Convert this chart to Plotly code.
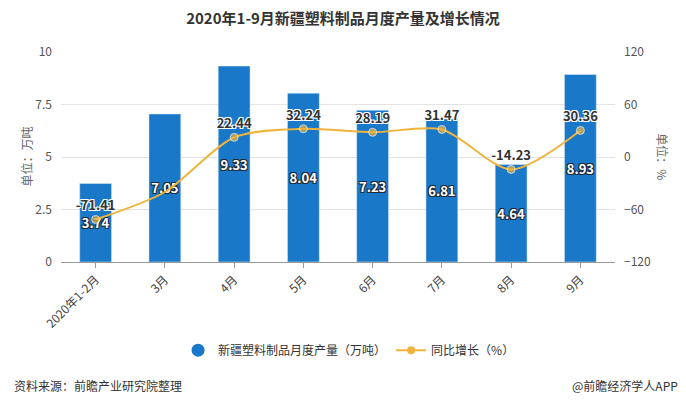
import plotly.graph_objects as go

categories = ["2020年1-2月", "3月", "4月", "5月", "6月", "7月", "8月", "9月"]
output_vals = [3.74, 7.05, 9.33, 8.04, 7.23, 6.81, 4.64, 8.93]
growth_vals = [-71.41, -40.0, 22.44, 32.24, 28.19, 31.47, -14.23, 30.36]
growth_labels = ["-71.41", "", "22.44", "32.24", "28.19", "31.47", "-14.23", "30.36"]
left_ticks = [0, 2.5, 5, 7.5, 10]
left_tick_text = ["0", "2.5", "5", "7.5", "10"]
right_ticks = [-120, -60, 0, 60, 120]

BAR = "#1a78c8"
LINE = "#f0b43c"
FONT = "Noto Sans CJK SC"

DARK_OUTLINE = ("1px 1px 0px #1f2a36, -1px -1px 0px #1f2a36, 1px -1px 0px #1f2a36, "
                "-1px 1px 0px #1f2a36")
WHITE_OUTLINE = ("1px 1px 0px white, -1px -1px 0px white, 1px -1px 0px white, "
                 "-1px 1px 0px white")

# marker hidden where the reference's marker is covered by the bar label
marker_sizes = [8 if lab else 0 for lab in growth_labels]

fig = go.Figure()
fig.add_trace(go.Bar(
    x=categories, y=output_vals, marker_color=BAR, width=0.46,
    text=[f"{v:.2f}" for v in output_vals], textposition="inside",
    insidetextanchor="middle", textangle=0, constraintext="none",
    textfont=dict(family=FONT, size=13, color="white", shadow=DARK_OUTLINE, weight="bold"),
    showlegend=False, yaxis="y", cliponaxis=False,
))
fig.add_trace(go.Scatter(
    x=categories, y=growth_vals, mode="lines+markers+text", yaxis="y2",
    line=dict(color=LINE, width=2, shape="spline", smoothing=0.8),
    marker=dict(color=LINE, size=marker_sizes),
    text=growth_labels, textposition="top center",
    textfont=dict(family=FONT, size=13, color="#333333", shadow=WHITE_OUTLINE, weight="bold"),
    showlegend=False, cliponaxis=False,
))
# legend proxies
fig.add_trace(go.Scatter(
    x=[None], y=[None], mode="lines+markers", line=dict(color=LINE, width=2),
    marker=dict(color=LINE, size=8), name="同比增长（%）", showlegend=True,
))
fig.add_trace(go.Scatter(
    x=[None], y=[None], mode="markers", marker=dict(color=BAR, size=13, symbol="circle"),
    name="新疆塑料制品月度产量（万吨）", showlegend=True,
))

fig.update_layout(
    width=686, height=407,
    margin=dict(l=61, r=71, t=52, b=145),
    paper_bgcolor="white", plot_bgcolor="white",
    font=dict(family=FONT, size=12, color="#666666"),
    title=dict(text="<b>2020年1-9月新疆塑料制品月度产量及增长情况</b>", x=0.5, xanchor="center",
               y=0.955, yanchor="middle", font=dict(family=FONT, size=15, color="#333333")),
    bargap=0.5,
    xaxis=dict(type="category", tickangle=-45, tickfont=dict(size=12, color="#444444"),
               showline=True, linecolor="#999999", ticks="outside", ticklen=5, tickcolor="#999999",
               showgrid=False),
    yaxis=dict(range=[0, 10], tickvals=left_ticks, ticktext=left_tick_text,
               showgrid=True, gridcolor="#e3e3e3", zeroline=False, showline=False,
               tickfont=dict(size=12, color="#555555"), ticklabelstandoff=8),
    yaxis2=dict(range=[-120, 120], tickvals=right_ticks, overlaying="y", side="right",
                showgrid=False, zeroline=False, showline=False,
                tickfont=dict(size=12, color="#555555"), ticklabelstandoff=8),
    legend=dict(orientation="h", x=0.52, xanchor="center", y=-0.42, yanchor="middle",
                traceorder="reversed", font=dict(size=12, color="#333333"),
                itemwidth=30),
    showlegend=True,
)

fig.add_annotation(text="单位：万吨", xref="paper", yref="paper", x=-0.083, y=0.5,
                   textangle=-90, showarrow=False, font=dict(size=12, color="#666666"))
fig.add_annotation(text="单位：%", xref="paper", yref="paper", x=1.105, y=0.5,
                   textangle=90, showarrow=False, font=dict(size=12, color="#666666"))
fig.add_annotation(text="资料来源：前瞻产业研究院整理", xref="paper", yref="paper",
                   x=-0.089, xanchor="left", y=-0.59, yanchor="middle", showarrow=False,
                   font=dict(size=12, color="#333333"))
fig.add_annotation(text="@前瞻经济学人APP", xref="paper", yref="paper",
                   x=1.118, xanchor="right", y=-0.59, yanchor="middle", showarrow=False,
                   font=dict(size=12, color="#333333"))

fig.write_html("out.html")
